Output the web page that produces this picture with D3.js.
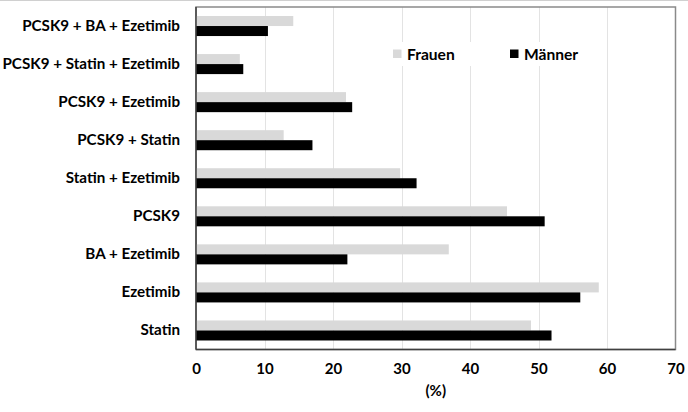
<!DOCTYPE html>
<html><head><meta charset="utf-8">
<script src="https://cdn.jsdelivr.net/npm/d3@7"></script>
<style>html,body{margin:0;padding:0;background:#fff;}svg{display:block;}</style>
</head><body>
<svg id="chart" width="688" height="412"></svg>
<script>
const categories = ["PCSK9 + BA + Ezetimib","PCSK9 + Statin + Ezetimib","PCSK9 + Ezetimib","PCSK9 + Statin","Statin + Ezetimib","PCSK9","BA + Ezetimib","Ezetimib","Statin"];
const seriesNames = ["Frauen","Männer"];
const frauen = [14.2, 6.4, 21.9, 12.8, 29.8, 45.4, 36.9, 58.8, 48.9];
const maenner = [10.5, 6.9, 22.8, 17.0, 32.2, 50.9, 22.1, 56.1, 51.9];
const xTicks = [0,10,20,30,40,50,60,70];
const colors = ["#d9d9d9", "#000000"];

const svg = d3.select("#chart");
const font = "Lato, 'Open Sans', sans-serif";
const m = {left:196, right:675.5, top:7, bottom:349.5};

svg.append("line").attr("x1",0).attr("x2",688).attr("y1",0.5).attr("y2",0.5).attr("stroke","#d0d0d0");

const x = d3.scaleLinear().domain([0,70]).range([m.left, m.right]);
const y = d3.scaleBand().domain(categories).range([m.top, m.bottom]).paddingInner(18/38).paddingOuter(9/38);
const ys = d3.scaleBand().domain(seriesNames).range([0, y.bandwidth()]);

// gridlines
svg.append("g").selectAll("line").data(xTicks.slice(1,-1)).join("line")
  .attr("x1",d=>Math.round(x(d))+0.5).attr("x2",d=>Math.round(x(d))+0.5)
  .attr("y1",m.top).attr("y2",m.bottom).attr("stroke","#e3e3e3").attr("stroke-width",1);

// frame
svg.append("rect").attr("x",m.left).attr("y",m.top).attr("width",m.right-m.left).attr("height",m.bottom-m.top)
  .attr("fill","none").attr("stroke","#8a8a8a").attr("stroke-width",1.5);

// legend box
svg.append("rect").attr("x",385).attr("y",42).attr("width",215).attr("height",24).attr("fill","#fff");

const data = categories.map((c,i)=>({c, vals:[frauen[i], maenner[i]]}));
const g = svg.append("g");
g.selectAll("g").data(data).join("g")
  .attr("transform", d=>`translate(0,${y(d.c)})`)
  .selectAll("rect").data(d=>d.vals.map((v,j)=>({v, s:seriesNames[j], j})))
  .join("rect")
  .attr("x", x(0)).attr("y", d=>ys(d.s)).attr("height", ys.bandwidth())
  .attr("width", d=>x(d.v)-x(0)).attr("fill", d=>colors[d.j]);

// axes lines
svg.append("line").attr("x1",m.left).attr("x2",m.left).attr("y1",m.top).attr("y2",m.bottom).attr("stroke","#404040").attr("stroke-width",1.5);
svg.append("line").attr("x1",m.left).attr("x2",m.right).attr("y1",m.bottom).attr("y2",m.bottom).attr("stroke","#404040").attr("stroke-width",1.5);

// x axis
const xa = svg.append("g").attr("transform",`translate(0,${m.bottom})`)
  .call(d3.axisBottom(x).tickValues(xTicks).tickSize(0).tickPadding(14));
xa.select(".domain").remove();
xa.selectAll("text").attr("font-family",font).attr("font-weight","bold").attr("font-size","15px").attr("fill","#000");

// y axis
const ya = svg.append("g").attr("transform",`translate(${m.left},0)`)
  .call(d3.axisLeft(y).tickSize(0).tickPadding(16));
ya.select(".domain").remove();
ya.selectAll("text").attr("font-family",font).attr("font-weight","bold").attr("font-size","15.2px").attr("fill","#000");

svg.append("text").attr("x",(m.left+m.right)/2).attr("y",396).attr("text-anchor","middle")
  .attr("font-family",font).attr("font-weight","bold").attr("font-size","15px").text("(%)");

// legend
const lg = svg.append("g");
const legPos = [393, 510];
seriesNames.forEach((s,i)=>{
  lg.append("rect").attr("x",legPos[i]).attr("y",49.5).attr("width",8.5).attr("height",8.5).attr("fill",colors[i]);
  lg.append("text").attr("x",legPos[i]+14).attr("y",59.5).attr("font-family",font).attr("font-weight","bold")
    .attr("font-size","15.6px").attr("fill","#000").text(s);
});
</script>
</body></html>
